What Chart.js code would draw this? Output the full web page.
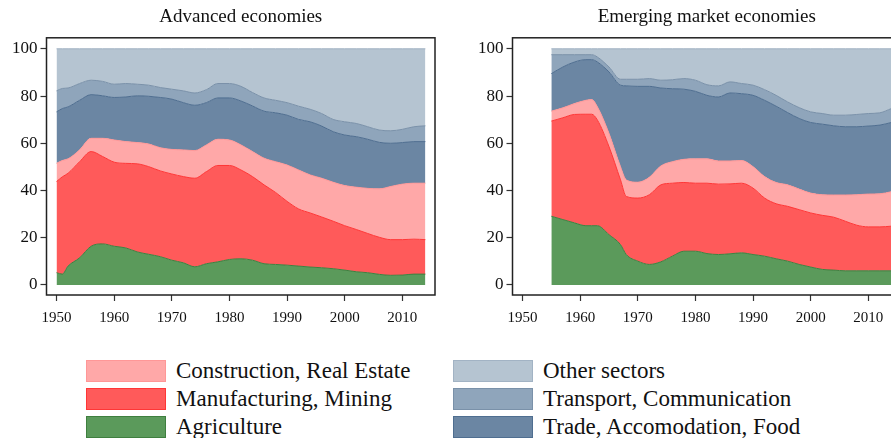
<!DOCTYPE html>
<html>
<head>
<meta charset="utf-8">
<script src="https://cdn.jsdelivr.net/npm/chart.js"></script>
<style>
  html, body { margin: 0; padding: 0; background: #fff; }
  body { width: 891px; height: 438px; overflow: hidden; position: relative; font-family: "Liberation Serif", serif; }
  .box { position: absolute; top: 0; width: 445px; height: 340px; }
  #leftBox { left: 0; }
  #rightBox { left: 466px; }
  .key { position: absolute; height: 22px; display: flex; align-items: center; font-size: 23px; color: #111; white-space: nowrap; }
  .swatch { width: 78px; height: 20px; border: 1px solid; margin-right: 10px; flex: none; }
</style>
</head>
<body>
<div class="box" id="leftBox"><canvas id="leftChart" width="445" height="340"></canvas></div>
<div class="box" id="rightBox"><canvas id="rightChart" width="445" height="340"></canvas></div>
<div id="legend"></div>

<script>
// sector names, bottom of the stack first
var sectors = ['Agriculture', 'Manufacturing, Mining', 'Construction, Real Estate',
               'Trade, Accomodation, Food', 'Transport, Communication', 'Other sectors'];
var fills   = ['#5b9a5b', '#ff5a5a', '#ffa8a8', '#6b86a3', '#8fa5bb', '#b5c4d1'];
var borders = ['#3f7f3f', '#ff3636', '#ff9797', '#4f6e90', '#7a91a9', '#a2b3c4'];

var yTicks = [0, 20, 40, 60, 80, 100];
var xTicks = [1950, 1960, 1970, 1980, 1990, 2000, 2010];

// Advanced economies, share of employment (%)
var advYears = [1950, 1951, 1952, 1954, 1956, 1958, 1960, 1962, 1964, 1966, 1968, 1970, 1972, 1974, 1976, 1978, 1980, 1982,
                1984, 1986, 1988, 1990, 1992, 1994, 1996, 1998, 2000, 2002, 2004, 2006, 2008, 2010, 2012, 2014];
var advAgri   = [5.2, 4.6, 8.0, 11.5, 16.4, 17.4, 16.4, 15.7, 14.0, 13.0, 12.0, 10.5, 9.4, 7.7, 9.0, 9.8, 10.8, 11.1,
                 10.5, 9.0, 8.7, 8.4, 8.0, 7.6, 7.3, 6.9, 6.3, 5.6, 5.2, 4.5, 4.1, 4.2, 4.6, 4.6];
var advManuf  = [38.6, 41.2, 39.3, 40.7, 40.1, 37.0, 35.6, 35.8, 37.3, 37.1, 36.3, 36.5, 36.5, 37.5, 39.0, 40.8, 39.8, 37.6,
                 35.4, 33.4, 30.5, 27.0, 24.2, 22.9, 21.5, 20.1, 18.8, 17.9, 16.6, 15.7, 15.1, 15.0, 14.8, 14.6];
var advConstr = [7.7, 6.9, 6.1, 5.0, 5.6, 7.7, 9.4, 9.2, 9.0, 9.6, 9.8, 10.4, 11.3, 11.7, 11.3, 11.1, 10.8, 10.6,
                 10.6, 11.3, 13.0, 15.4, 16.5, 16.1, 16.4, 16.5, 17.0, 17.9, 19.1, 20.5, 22.5, 23.5, 23.7, 23.9];
var advTrade  = [21.8, 22.0, 22.0, 21.0, 18.5, 18.0, 18.0, 18.9, 19.8, 20.2, 21.3, 21.3, 20.0, 19.2, 17.9, 17.5, 17.8, 18.6,
                 19.3, 19.9, 20.7, 21.1, 21.4, 22.5, 22.1, 21.4, 21.4, 21.4, 20.8, 19.7, 18.3, 17.6, 17.6, 17.6];
var advTransp = [8.9, 8.5, 8.0, 7.1, 6.1, 6.1, 5.6, 5.7, 4.9, 4.7, 4.2, 4.2, 5.0, 5.2, 5.5, 6.1, 6.1, 6.2,
                 5.7, 5.6, 5.3, 5.3, 5.6, 5.3, 5.3, 5.2, 5.6, 5.6, 5.3, 5.2, 5.3, 5.6, 6.3, 6.7];
var advOther  = [17.8, 16.8, 16.6, 14.7, 13.3, 13.8, 15.0, 14.7, 15.0, 15.4, 16.4, 17.1, 17.8, 18.7, 17.3, 14.7, 14.7, 15.9,
                 18.5, 20.8, 21.8, 22.8, 24.3, 25.6, 27.4, 29.9, 30.9, 31.6, 33.0, 34.4, 34.7, 34.1, 33.0, 32.6];

// Emerging market economies, share of employment (%)
var emYears = [1955, 1957, 1959, 1961, 1962, 1963, 1965, 1967, 1968, 1970, 1972, 1974, 1976, 1978, 1980, 1982,
               1984, 1986, 1988, 1990, 1992, 1994, 1996, 1998, 2000, 2002, 2004, 2006, 2008, 2010, 2012, 2014];
var emAgri   = [29.1, 27.7, 26.3, 25.1, 25.1, 25.1, 21.3, 17.1, 12.9, 10.1, 8.7, 9.8, 12.2, 14.3, 14.3, 13.3,
                12.9, 13.2, 13.6, 12.9, 12.2, 11.1, 10.1, 8.7, 7.6, 6.6, 6.3, 6.0, 6.0, 6.0, 6.0, 6.0];
var emManuf  = [40.3, 43.1, 45.9, 47.2, 47.2, 44.7, 37.3, 27.4, 24.6, 26.7, 29.5, 32.6, 30.9, 29.1, 28.8, 29.8,
                29.8, 29.6, 29.5, 28.1, 24.6, 23.3, 23.2, 23.2, 22.9, 22.9, 22.4, 21.0, 19.3, 18.6, 18.6, 18.9];
var emConstr = [4.2, 4.2, 4.6, 5.9, 6.2, 5.6, 5.6, 5.6, 7.0, 6.7, 7.4, 8.0, 9.1, 9.8, 10.3, 10.3,
                9.8, 9.7, 9.6, 9.1, 9.1, 9.0, 9.1, 8.7, 8.4, 8.7, 9.4, 11.1, 12.9, 13.9, 14.0, 14.6];
var emTrade  = [15.9, 17.3, 17.6, 17.2, 16.9, 19.0, 26.0, 34.5, 39.8, 40.6, 38.5, 33.0, 30.9, 29.7, 28.6, 26.9,
                27.1, 28.8, 28.3, 30.2, 32.3, 32.3, 30.6, 29.9, 29.9, 29.9, 29.3, 28.9, 28.8, 28.8, 29.1, 29.3];
var emTransp = [8.0, 5.2, 3.1, 2.1, 2.1, 2.1, 2.1, 2.5, 2.8, 3.0, 3.3, 3.3, 3.8, 4.5, 4.7, 4.5,
                4.7, 4.7, 4.3, 4.3, 4.5, 4.6, 4.5, 4.6, 4.5, 4.5, 4.5, 4.9, 5.2, 5.3, 5.2, 5.9];
var emOther  = [2.5, 2.5, 2.5, 2.5, 2.5, 3.5, 7.7, 12.9, 12.9, 12.9, 12.6, 13.3, 13.1, 12.6, 13.3, 15.2,
                15.7, 14.0, 14.7, 15.4, 17.3, 19.7, 22.5, 24.9, 26.7, 27.4, 28.1, 28.1, 27.8, 27.4, 27.1, 25.3];

var advSeries = [advAgri, advManuf, advConstr, advTrade, advTransp, advOther];
var emSeries  = [emAgri, emManuf, emConstr, emTrade, emTransp, emOther];

var serif = '"Liberation Serif", "DejaVu Serif", serif';

// Stata-style box round the plot region
var framePlugin = {
    id: 'frame',
    afterDraw: function (chart) {
        var a = chart.chartArea, ctx = chart.ctx;
        ctx.save();
        ctx.strokeStyle = '#222';
        ctx.lineWidth = 1.5;
        ctx.strokeRect(a.left, a.top, a.right - a.left, a.bottom - a.top);
        ctx.restore();
    }
};

function makeDatasets(series) {
    return series.map(function (vals, i) {
        return {
            label: sectors[i],
            data: vals,
            backgroundColor: fills[i],
            borderColor: borders[i],
            borderWidth: 1,
            pointRadius: 0,
            cubicInterpolationMode: 'monotone',
            fill: i === 0 ? 'origin' : '-1'
        };
    });
}

function makeChart(id, title, years, series) {
    var ctx = document.getElementById(id).getContext('2d');
    return new Chart(ctx, {
        type: 'line',
        data: { labels: years, datasets: makeDatasets(series) },
        options: {
            responsive: false,
            animation: false,
            layout: { padding: { left: 0, right: 10, top: 0, bottom: 0 } },
            plugins: {
                legend: { display: false },
                tooltip: { enabled: false },
                title: {
                    display: true,
                    text: title,
                    fullSize: false,
                    color: '#111',
                    font: { family: serif, size: 19, weight: 'normal' },
                    padding: { top: 6, bottom: 9 }
                }
            },
            scales: {
                x: {
                    type: 'linear',
                    min: 1948.26,
                    max: 2015.67,
                    afterBuildTicks: function (s) { s.ticks = xTicks.map(function (v) { return { value: v }; }); },
                    afterFit: function (s) { s.height = 45; },
                    grid: { drawOnChartArea: false, tickLength: 6, tickColor: '#333', tickWidth: 1.2 },
                    border: { display: false },
                    ticks: {
                        color: '#111', padding: 8, maxRotation: 0,
                        font: { family: serif, size: 15 },
                        callback: function (v) { return String(v); }
                    }
                },
                y: {
                    stacked: true,
                    min: -4.24,
                    max: 104.66,
                    afterBuildTicks: function (s) { s.ticks = yTicks.map(function (v) { return { value: v }; }); },
                    afterFit: function (s) { s.width = 46.5; },
                    grid: { drawOnChartArea: false, tickLength: 6, tickColor: '#333', tickWidth: 1.2 },
                    border: { display: false },
                    ticks: { color: '#111', padding: 3, font: { family: serif, size: 17 } }
                }
            }
        },
        plugins: [framePlugin]
    });
}

makeChart('leftChart', 'Advanced economies', advYears, advSeries);
makeChart('rightChart', 'Emerging market economies', emYears, emSeries);

// legend below both panels, two columns of three
var legendOrder = [[2, 1, 0], [5, 4, 3]];
var legendX = [86, 453];
var legendY = [360, 388, 416];
var legendBox = document.getElementById('legend');
legendOrder.forEach(function (col, c) {
    col.forEach(function (idx, r) {
        var item = document.createElement('div');
        item.className = 'key';
        item.style.left = legendX[c] + 'px';
        item.style.top = legendY[r] + 'px';
        var sw = document.createElement('span');
        sw.className = 'swatch';
        sw.style.background = fills[idx];
        sw.style.borderColor = borders[idx];
        var txt = document.createElement('span');
        txt.textContent = sectors[idx];
        item.appendChild(sw);
        item.appendChild(txt);
        legendBox.appendChild(item);
    });
});
</script>
</body>
</html>
